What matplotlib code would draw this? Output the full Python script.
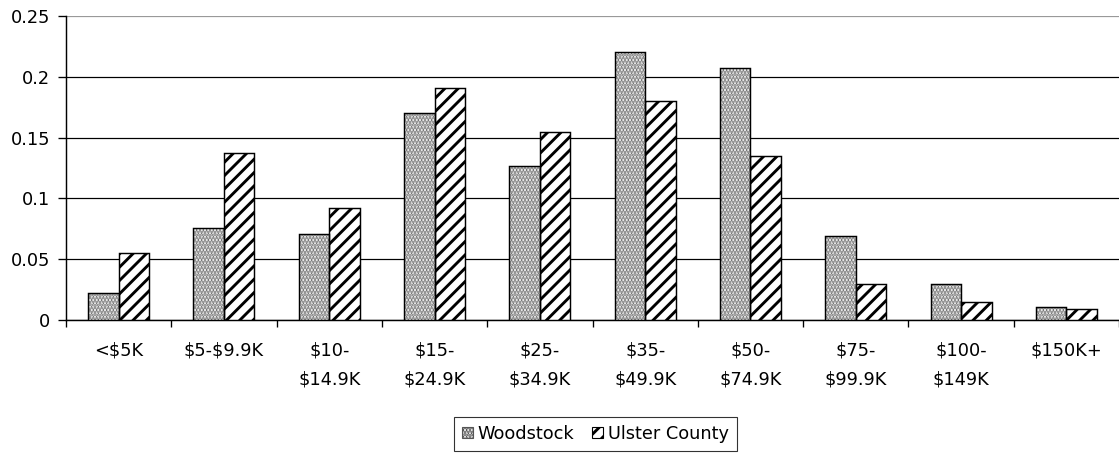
import matplotlib
matplotlib.use("Agg")
import matplotlib.pyplot as plt
from matplotlib.patches import Patch
import numpy as np

categories = ["<\\$5K", "\\$5-\\$9.9K", "\\$10-\n\\$14.9K", "\\$15-\n\\$24.9K", "\\$25-\n\\$34.9K",
              "\\$35-\n\\$49.9K", "\\$50-\n\\$74.9K", "\\$75-\n\\$99.9K", "\\$100-\n\\$149K", "\\$150K+"]
woodstock = [0.022, 0.076, 0.071, 0.170, 0.127, 0.220, 0.207, 0.069, 0.030, 0.011]
ulster = [0.055, 0.137, 0.092, 0.191, 0.155, 0.180, 0.135, 0.030, 0.015, 0.009]
series_names = ["Woodstock", "Ulster County"]
yticks = [0, 0.05, 0.1, 0.15, 0.2, 0.25]
ytick_labels = ["0", "0.05", "0.1", "0.15", "0.2", "0.25"]

DPI = 80
FS = 16
plt.rcParams['font.family'] = ['DejaVu Sans']
plt.rcParams['hatch.linewidth'] = 2.6

fig = plt.figure(figsize=(1119 / DPI, 455 / DPI), dpi=DPI)
ax = fig.add_axes([66 / 1119, 1 - 320 / 455, 1 - 66 / 1119, (320 - 16) / 455])

x = np.arange(len(categories))
w = 0.29

# Woodstock: dotted fill, drawn then outlined
ax.bar(x - w / 2, woodstock, w, color='white', edgecolor='#777777', hatch='....', linewidth=0, zorder=3)
ax.bar(x - w / 2, woodstock, w, fill=False, edgecolor='black', linewidth=1.3, zorder=4)
# Ulster: diagonal stripes
ax.bar(x + w / 2, ulster, w, color='white', edgecolor='black', hatch='//', linewidth=1.3, zorder=3)

ax.set_xlim(-0.5, len(categories) - 0.5)
ax.set_ylim(0, 0.25)
ax.set_yticks(yticks)
ax.set_yticklabels(ytick_labels, fontsize=FS)
ax.yaxis.grid(True, color='black', linewidth=1.1, zorder=0)
ax.set_axisbelow(True)
ax.get_ygridlines()[-1].set_color('#999999')

ax.set_xticks(np.arange(-0.5, len(categories), 1.0))
ax.set_xticklabels([])
ax.set_xticks(x, minor=True)
ax.set_xticklabels(categories, minor=True, fontsize=FS, linespacing=1.75, va='top')
ax.tick_params(axis='x', which='minor', length=0, pad=19.5)
ax.tick_params(axis='x', which='major', length=6.5, width=1.2, direction='out')
ax.tick_params(axis='y', length=7, width=1.2, direction='out', pad=7)

for s in ['top', 'right']:
    ax.spines[s].set_visible(False)
ax.spines['left'].set_linewidth(1.3)
ax.spines['bottom'].set_linewidth(1.3)

handles = [Patch(facecolor='white', edgecolor='#555555', hatch='....', linewidth=1.0),
           Patch(facecolor='white', edgecolor='black', hatch='//', linewidth=1.0)]
leg = ax.legend(handles, series_names, loc='upper center', bbox_to_anchor=(0.503, -0.318),
                ncol=2, fontsize=FS, frameon=True, fancybox=False, edgecolor='black',
                handlelength=0.6, handleheight=0.6, handletextpad=0.3, columnspacing=1.0,
                borderpad=0.45, borderaxespad=0)
leg.get_frame().set_linewidth(1.0)

fig.savefig("out.png", dpi=DPI)
